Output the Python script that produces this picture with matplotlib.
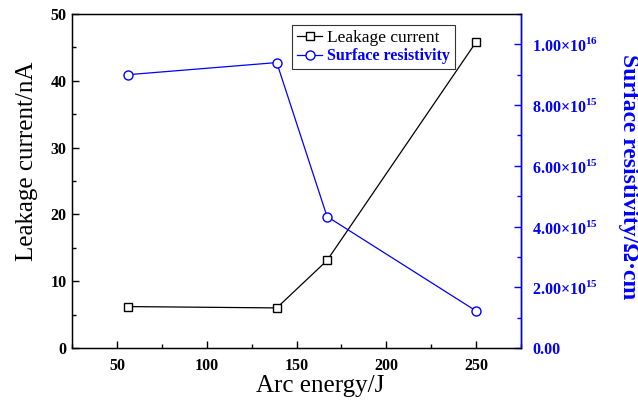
import matplotlib.pyplot as plt
from matplotlib.ticker import MultipleLocator, FuncFormatter

plt.rcParams['font.family'] = ['Liberation Serif', 'DejaVu Serif']
plt.rcParams['mathtext.fontset'] = 'custom'
plt.rcParams['mathtext.rm'] = 'Liberation Serif'
plt.rcParams['mathtext.bf'] = 'Liberation Serif:bold'

arc_energy = [56, 139, 167, 250]
leakage_current = [6.2, 6.0, 13.1, 45.8]
surface_resistivity = [9.0e15, 9.4e15, 4.33e15, 1.22e15]

fig = plt.figure(figsize=(6.38, 4.03), dpi=100)
ax = fig.add_axes([0.1129, 0.1365, 0.7037, 0.8288])
ax2 = ax.twinx()

l1, = ax.plot(arc_energy, leakage_current, color='black', lw=0.9,
              marker='s', ms=5.5, mfc='white', mec='black', mew=1.0,
              label='Leakage current')
l2, = ax2.plot(arc_energy, surface_resistivity, color='blue', lw=0.9,
               marker='o', ms=6.5, mfc='white', mec='blue', mew=1.0,
               label='Surface resistivity')

ax.set_xlim(25, 275)
ax.set_ylim(0, 50)
ax2.set_ylim(0, 1.1e16)

ax.xaxis.set_major_locator(MultipleLocator(50))
ax.xaxis.set_minor_locator(MultipleLocator(25))
ax.yaxis.set_major_locator(MultipleLocator(10))
ax.yaxis.set_minor_locator(MultipleLocator(5))
ax2.yaxis.set_major_locator(MultipleLocator(2e15))
ax2.yaxis.set_minor_locator(MultipleLocator(1e15))


def sci_fmt(v, pos):
    if v == 0:
        return '0.00'
    exp = len(str(int(round(v)))) - 1
    mant = v / 10 ** exp
    return '%.2f×10$^{\\mathbf{%d}}$' % (mant, exp)


ax2.yaxis.set_major_formatter(FuncFormatter(sci_fmt))

ax.tick_params(axis='both', which='both', direction='in', top=False, right=False,
               width=1.0, labelsize=11.5, pad=4)
ax.tick_params(which='major', length=5)
ax.tick_params(which='minor', length=3)
ax.tick_params(axis='x', pad=7)
for lbl in ax.get_xticklabels() + ax.get_yticklabels():
    lbl.set_fontweight('bold')

ax2.tick_params(axis='y', which='both', direction='in', colors='blue',
                width=1.0, labelsize=11.5, pad=8)
ax2.tick_params(which='major', length=5)
ax2.tick_params(which='minor', length=3)
for lbl in ax2.get_yticklabels():
    lbl.set_fontweight('bold')

for s in ax.spines.values():
    s.set_linewidth(1.0)
ax2.spines['right'].set_color('blue')
ax2.spines['right'].set_linewidth(1.0)

# axis titles, placed by their centres
ax.set_xlabel('Arc energy/J', fontsize=18, va='center', ha='center')
ax.xaxis.set_label_coords(0.552, -0.115)
ax.set_ylabel('Leakage current/nA', fontsize=18, va='center', ha='center')
ax.yaxis.set_label_coords(-0.1, 0.56)
ax2.set_ylabel('Surface resistivity/Ω·cm', fontsize=17, fontweight='bold',
               color='blue', rotation=270, va='center', ha='center')
ax2.yaxis.set_label_coords(1.24, 0.513)

leg = ax2.legend(handles=[l1, l2], loc='upper left', bbox_to_anchor=(0.49, 0.967),
                 fontsize=11.5, frameon=True, fancybox=False, borderpad=0.3,
                 handlelength=1.6, handletextpad=0.3, labelspacing=0.15,
                 borderaxespad=0)
leg.get_frame().set_edgecolor('black')
leg.get_frame().set_linewidth(0.8)
texts = leg.get_texts()
texts[0].set_fontsize(12.5)
texts[1].set_color('blue')
texts[1].set_fontweight('bold')

fig.savefig('out.png', dpi=100)
